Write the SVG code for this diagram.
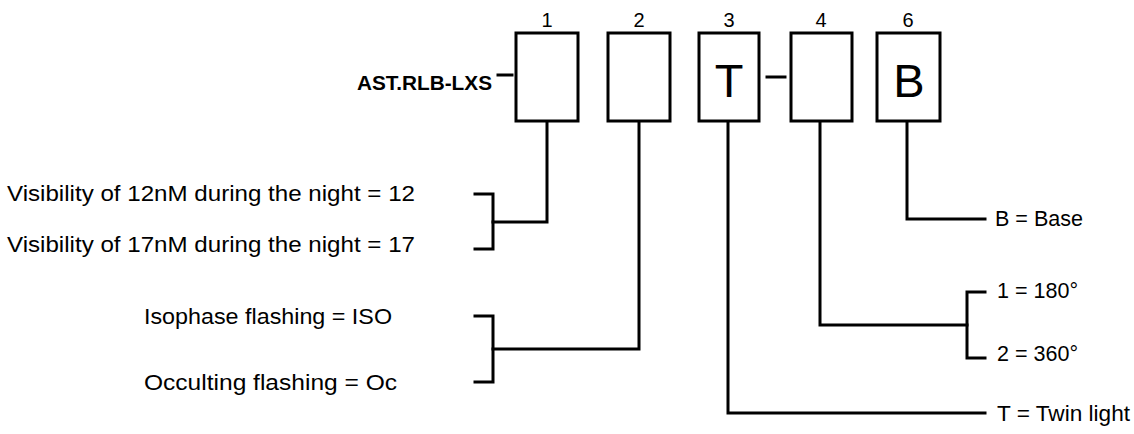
<svg xmlns="http://www.w3.org/2000/svg" width="1134" height="434" viewBox="0 0 1134 434">
<style>
.box{fill:#fff;stroke:#000;stroke-width:3}
.ln{fill:none;stroke:#000;stroke-width:3;stroke-linejoin:miter;stroke-linecap:square}
.t{font-family:"Liberation Sans",Arial,sans-serif;font-size:22px;fill:#000}
.n{font-family:"Liberation Sans",Arial,sans-serif;font-size:20px;fill:#000;text-anchor:middle}
.big{font-family:"Liberation Sans",Arial,sans-serif;font-size:47px;fill:#000;text-anchor:middle}
.b{font-family:"Liberation Sans",Arial,sans-serif;font-size:21px;font-weight:bold;fill:#000}
</style>
<rect width="1134" height="434" fill="#fff"/>
<g id="connectors">
<line class="ln" x1="498" y1="75" x2="512" y2="75"/>
<line class="ln" x1="767" y1="77" x2="785" y2="77"/>
<polyline class="ln" points="547,122 547,222 493,222"/>
<polyline class="ln" points="475,194 493,194 493,249 475,249"/>
<polyline class="ln" points="639,122 639,349 493,349"/>
<polyline class="ln" points="475,316 493,316 493,382 475,382"/>
<polyline class="ln" points="728,122 728,413 985,413"/>
<polyline class="ln" points="820,122 820,325 967,325"/>
<polyline class="ln" points="985,292 967,292 967,358 985,358"/>
<polyline class="ln" points="907,122 907,219 985,219"/>
</g>
<g id="title"><text class="b" x="357" y="90" textLength="135" lengthAdjust="spacingAndGlyphs">AST.RLB-LXS</text></g>
<g id="node1"><rect class="box" x="516" y="33" width="62" height="88"/><text class="n" x="547" y="27">1</text></g>
<g id="node2"><rect class="box" x="608" y="33" width="62" height="88"/><text class="n" x="639" y="27">2</text></g>
<g id="node3"><rect class="box" x="699" y="33" width="60" height="88"/><text class="n" x="729" y="27">3</text><text class="big" x="729" y="97">T</text></g>
<g id="node4"><rect class="box" x="791" y="33" width="61" height="88"/><text class="n" x="821" y="27">4</text></g>
<g id="node6"><rect class="box" x="877" y="33" width="63" height="88"/><text class="n" x="908" y="27">6</text><text class="big" x="909" y="97">B</text></g>
<g id="labels">
<text class="t" x="7" y="201" textLength="408" lengthAdjust="spacingAndGlyphs">Visibility of 12nM during the night = 12</text>
<text class="t" x="7" y="252" textLength="408" lengthAdjust="spacingAndGlyphs">Visibility of 17nM during the night = 17</text>
<text class="t" x="144" y="324" textLength="248" lengthAdjust="spacingAndGlyphs">Isophase flashing = ISO</text>
<text class="t" x="144" y="390" textLength="253" lengthAdjust="spacingAndGlyphs">Occulting flashing = Oc</text>
<text class="t" x="995" y="226" textLength="88" lengthAdjust="spacingAndGlyphs">B = Base</text>
<text class="t" x="997" y="298" textLength="81" lengthAdjust="spacingAndGlyphs">1 = 180°</text>
<text class="t" x="997" y="361" textLength="81" lengthAdjust="spacingAndGlyphs">2 = 360°</text>
<text class="t" x="997" y="421" textLength="133" lengthAdjust="spacingAndGlyphs">T = Twin light</text>
</g>
</svg>
